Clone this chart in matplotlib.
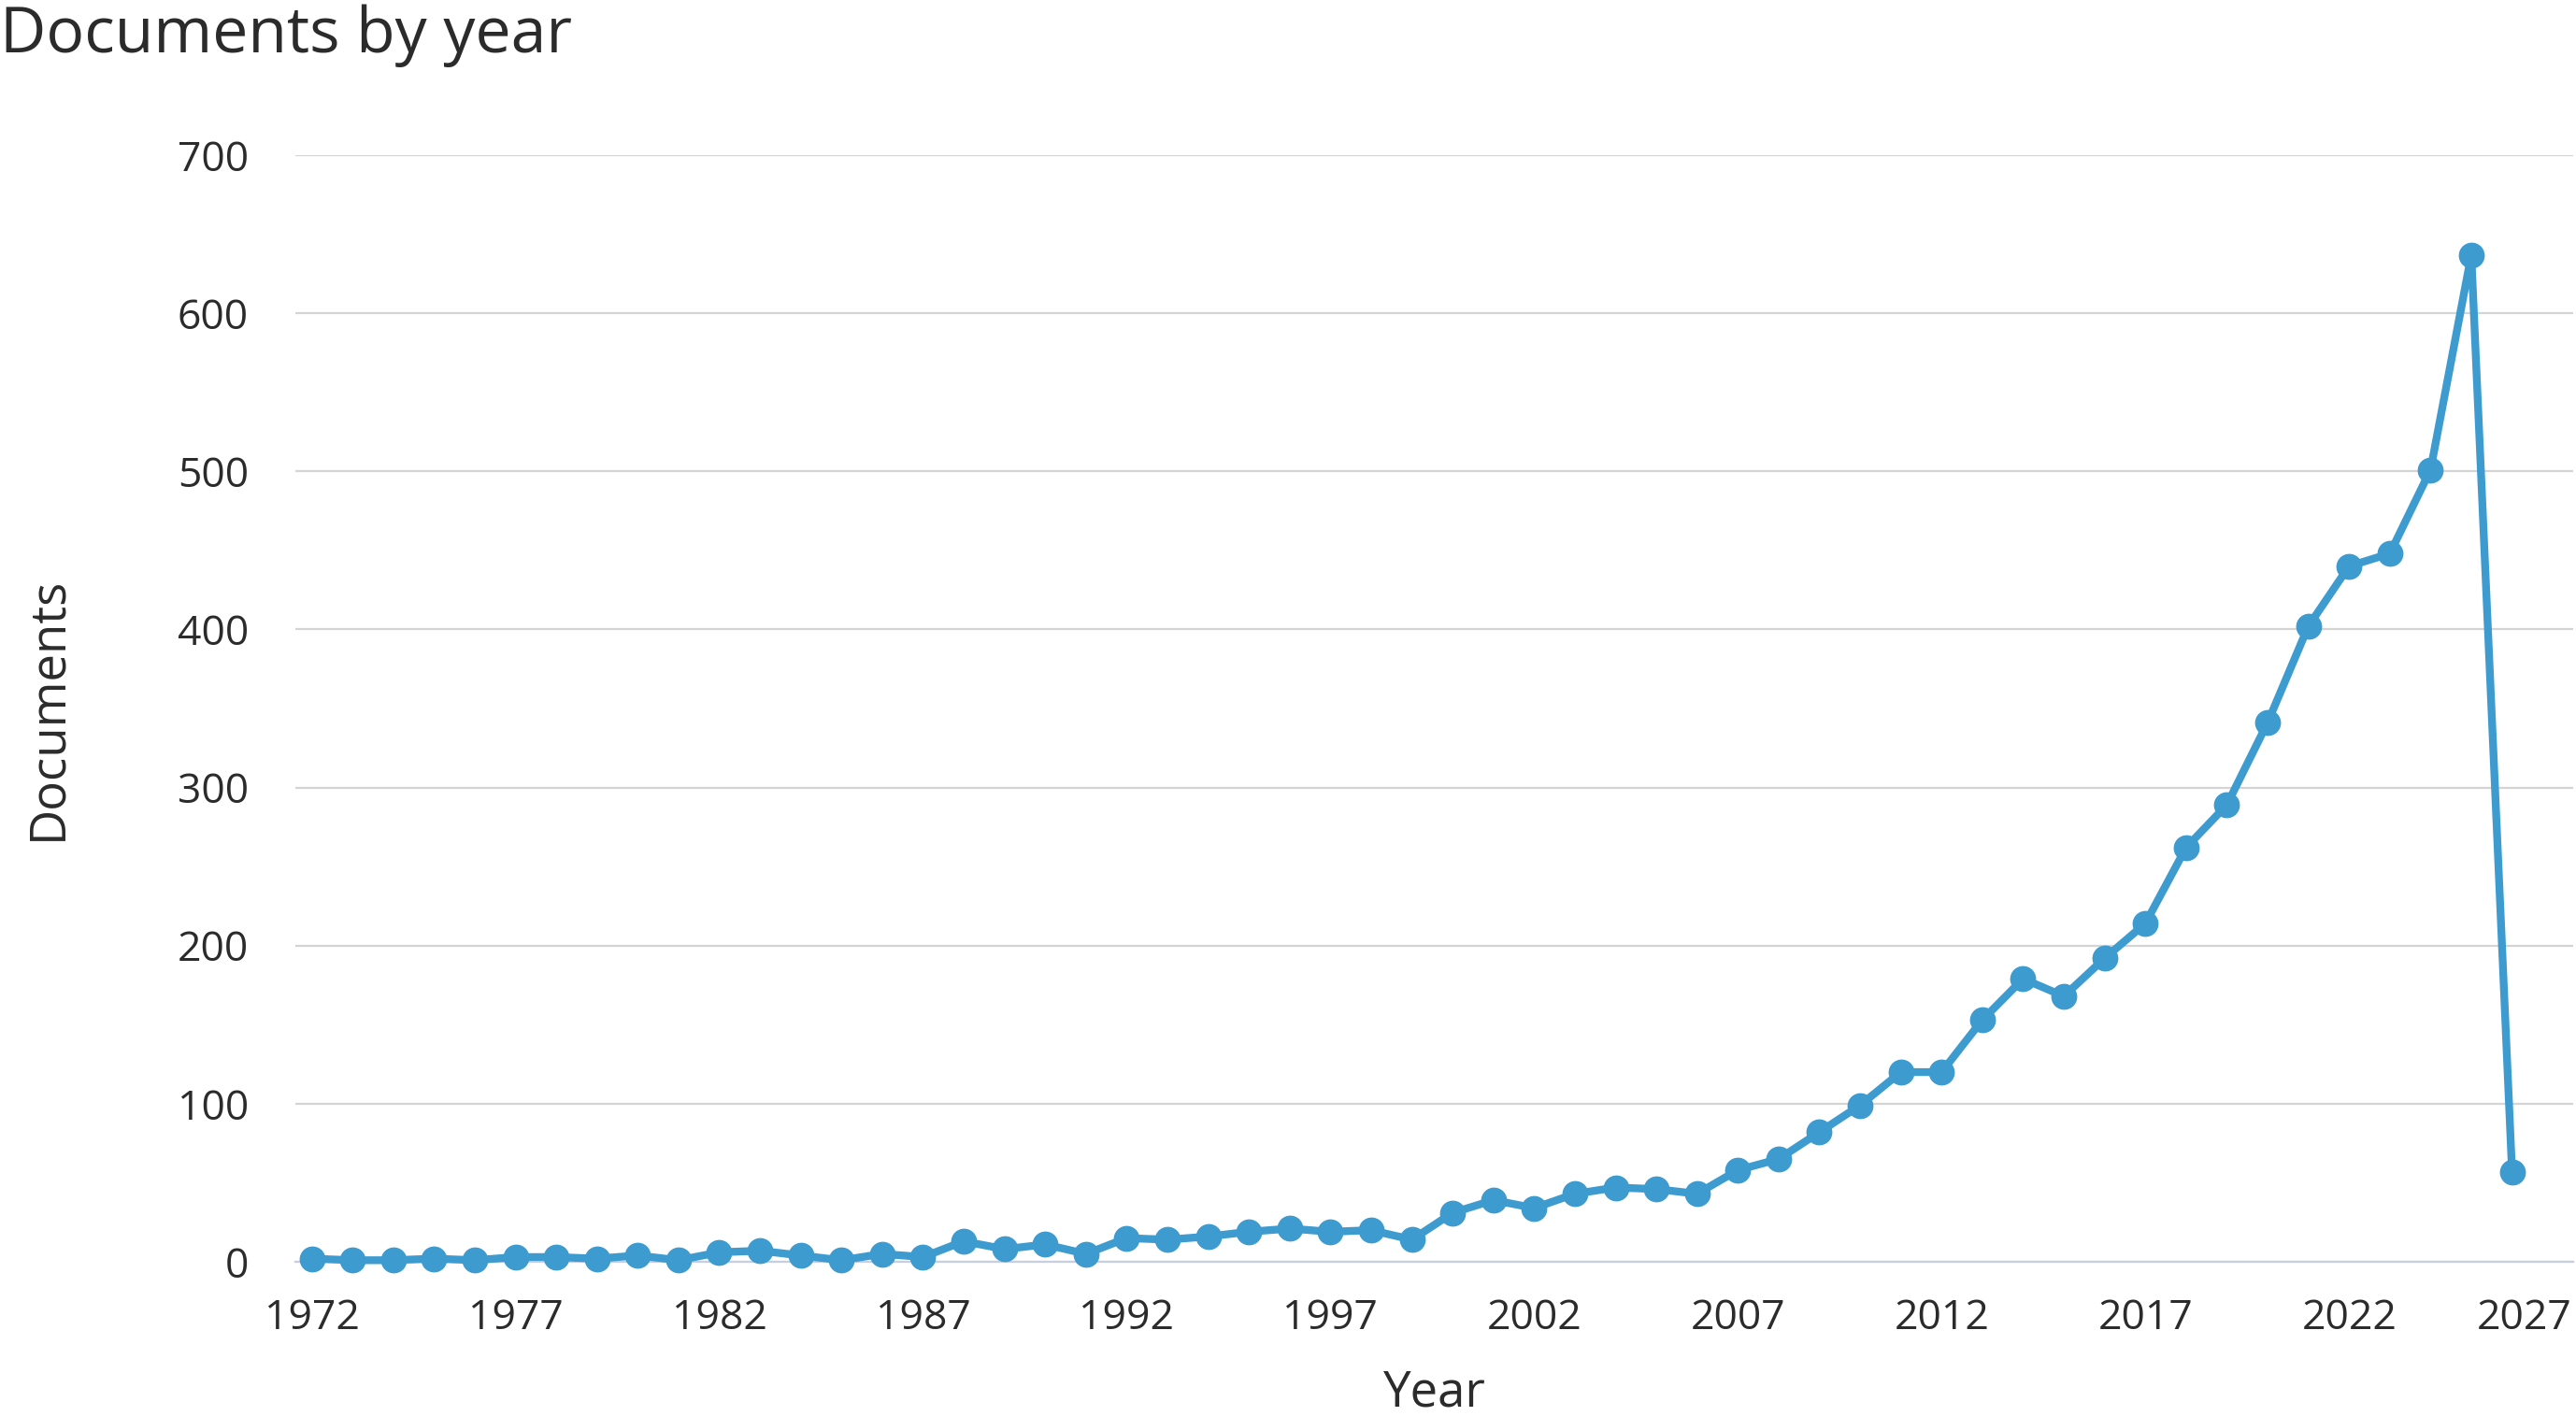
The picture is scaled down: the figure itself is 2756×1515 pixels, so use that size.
import matplotlib
matplotlib.use("Agg")
import matplotlib.pyplot as plt
import matplotlib.transforms as mtransforms

plt.rcParams['font.family'] = ['Open Sans', 'DejaVu Sans']

# Documents per year, 1972-2026
years = list(range(1972, 2027))
docs = [2, 1, 1, 2, 1, 3, 3, 2, 4, 1,
        6, 7, 4, 1, 5, 3, 13, 8, 11, 5,
        15, 14, 16, 19, 21, 19, 20, 14, 31, 39,
        34, 43, 47, 46, 43, 58, 65, 82, 99, 120,
        120, 153, 179, 168, 192, 214, 262, 289, 341, 402,
        440, 448, 501, 637, 57]

x_ticks = [1972, 1977, 1982, 1987, 1992, 1997, 2002, 2007, 2012, 2017, 2022, 2027]
y_ticks = [0, 100, 200, 300, 400, 500, 600, 700]

text_color = '#2b2b2b'
line_color = '#3d9bd0'

fig = plt.figure(figsize=(27.56, 15.15), dpi=100)
ax = fig.add_axes([0.1147, 0.1089, 0.8842, 0.7815])

ax.plot(years, docs, color=line_color, linewidth=6, marker='o', markersize=19,
        clip_on=False, zorder=3)

ax.set_xlim(1971.6, 2027.5)
ax.set_ylim(0, 700)
ax.set_xticks(x_ticks)
ax.set_yticks(y_ticks)

# grid lines only horizontally
ax.grid(axis='y', color='#d4d4d4', linewidth=1.6)
ax.set_axisbelow(True)
for s in ['top', 'right', 'left']:
    ax.spines[s].set_visible(False)
ax.spines['bottom'].set_color('#c8cde6')
ax.spines['bottom'].set_linewidth(1.6)

ax.tick_params(axis='both', length=0, labelsize=32, labelcolor=text_color)
ax.tick_params(axis='y', pad=36)
ax.tick_params(axis='x', pad=28)

# last x label pulled inside the figure
last = ax.get_xticklabels()[-1]
last.set_horizontalalignment('right')
last.set_transform(last.get_transform() + mtransforms.ScaledTranslation(0.2, 0, fig.dpi_scale_trans))

ax.set_xlabel('Year', fontsize=38, color=text_color, labelpad=22)
ax.set_ylabel('Documents', fontsize=38, color=text_color, labelpad=80)

fig.text(0.0, 0.997, 'Documents by year', fontsize=49, color=text_color,
         ha='left', va='top')

fig.savefig('out.png', dpi=100)
